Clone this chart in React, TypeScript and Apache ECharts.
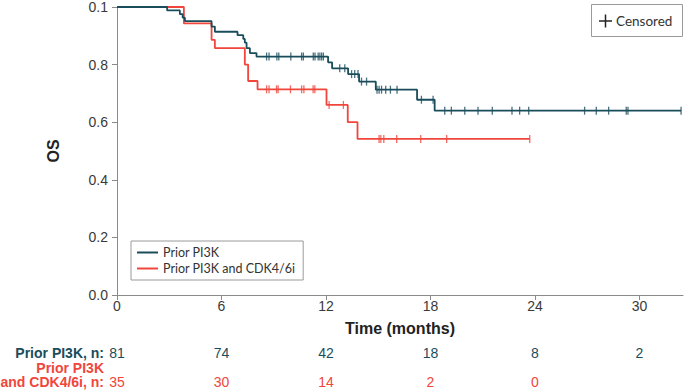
import React, { useEffect, useRef } from "react";
import * as echarts from "echarts";

// ---- Data ----
const priorTimes = [0, 2.88, 3.61, 3.77, 3.9, 5.43, 5.62, 6.92, 7.25, 7.34, 7.44, 7.63, 8.01, 12.12, 12.35, 13.27, 13.9, 14.86, 17.23, 18.24, 32.39];
const priorSurv = [1, 0.988, 0.975, 0.963, 0.951, 0.932, 0.914, 0.902, 0.889, 0.876, 0.857, 0.84, 0.828, 0.808, 0.787, 0.767, 0.741, 0.713, 0.678, 0.64, 0.64];
const priorCensored = [8.59, 8.73, 9.18, 9.29, 9.98, 10.6, 10.7, 11.27, 11.37, 11.55, 11.65, 11.75, 11.85, 12.79, 13.08, 13.47, 13.65, 13.84, 14.04, 14.33, 14.93, 15.05, 15.19, 15.43, 15.7, 16.08, 17.48, 18.15, 18.82, 19.2, 19.97, 20.73, 21.55, 22.68, 23.12, 23.64, 26.85, 27.52, 28.23, 29.24, 29.34, 32.39];

const comboTimes = [0, 3.84, 5.43, 5.62, 7.34, 7.53, 8.07, 12.03, 13.25, 13.81, 23.7];
const comboSurv = [1, 0.943, 0.886, 0.857, 0.8, 0.743, 0.714, 0.66, 0.6, 0.542, 0.542];
const comboCensored = [8.59, 8.73, 9.16, 9.25, 9.96, 10.6, 10.73, 11.26, 11.36, 12.18, 13.0, 15.05, 15.15, 15.32, 16.06, 17.44, 18.93, 23.7];

const xTicks = [0, 6, 12, 18, 24, 30];
const yTicks = [0, 0.2, 0.4, 0.6, 0.8, 1.0];
const riskTimes = [0, 6, 12, 18, 24, 30];
const riskPrior = [81, 74, 42, 18, 8, 2];
const riskCombo = [35, 30, 14, 2, 0];

const seriesNames = ["Prior PI3K", "Prior PI3K and CDK4/6i"];
const TEAL = "#1a4d5c";
const RED = "#f0463b";

function survAt(times: number[], surv: number[], t: number) {
  let s = surv[0];
  for (let i = 0; i < times.length; i++) {
    if (times[i] <= t) s = surv[i];
  }
  return s;
}

export default function App() {
  const ref = useRef<HTMLDivElement>(null);
  useEffect(() => {
    if (!ref.current) return;
    const chart = echarts.init(ref.current, undefined, { renderer: "svg" });
    const axisLineStyle = { color: "#8a8a8a", width: 1 };
    const option: any = {
      animation: false,
      backgroundColor: "#ffffff",
      grid: { left: 117, right: 2, top: 5, bottom: 96, containLabel: false },
      legend: {
        data: seriesNames,
        orient: "vertical",
        left: 131,
        top: 241,
        borderColor: "#9a9a9a",
        borderWidth: 1,
        padding: [5, 8, 5, 6],
        itemGap: 3,
        itemWidth: 21,
        itemHeight: 2,
        icon: "rect",
        textStyle: { fontFamily: "Lato", fontSize: 12.5, color: "#333" },
      },
      xAxis: {
        type: "value",
        min: 0,
        max: 32.5,
        interval: 6,
        name: "Time (months)",
        nameLocation: "middle",
        nameGap: 25,
        nameTextStyle: { fontFamily: "Liberation Sans", fontWeight: "bold", fontSize: 16, color: "#222" },
        axisLine: { lineStyle: axisLineStyle },
        axisTick: { show: true, length: 5, lineStyle: axisLineStyle, customValues: xTicks },
        axisLabel: { fontFamily: "Liberation Sans", fontSize: 14, color: "#3a3a3a", margin: 4, customValues: xTicks },
        splitLine: { show: false },
      },
      yAxis: {
        type: "value",
        min: 0,
        max: 1,
        interval: 0.2,
        name: "OS",
        nameLocation: "middle",
        nameGap: 56,
        nameTextStyle: { fontFamily: "Liberation Sans", fontWeight: "bold", fontSize: 16, color: "#222" },
        axisLine: { show: true, lineStyle: axisLineStyle },
        axisTick: { show: true, length: 5, lineStyle: axisLineStyle, customValues: yTicks },
        axisLabel: {
          fontFamily: "Liberation Sans",
          fontSize: 14,
          color: "#3a3a3a",
          margin: 9,
          customValues: yTicks,
          formatter: (v: number) => (Math.abs(v - 1) < 1e-9 ? "0.1" : v.toFixed(1)),
        },
        splitLine: { show: false },
      },
      series: [
        {
          name: seriesNames[0],
          type: "line",
          step: "end",
          showSymbol: false,
          symbol: "none",
          color: TEAL,
          lineStyle: { color: TEAL, width: 1.8 },
          data: priorTimes.map((t, i) => [t, priorSurv[i]]),
          z: 3,
        },
        {
          name: seriesNames[1],
          type: "line",
          step: "end",
          showSymbol: false,
          symbol: "none",
          color: RED,
          lineStyle: { color: RED, width: 1.8 },
          data: comboTimes.map((t, i) => [t, comboSurv[i]]),
          z: 2,
        },
        {
          name: "prior-censored",
          type: "scatter",
          symbol: "rect",
          symbolSize: [1.3, 8],
          itemStyle: { color: TEAL },
          data: priorCensored.map((t) => [t, survAt(priorTimes, priorSurv, t)]),
          z: 4,
        },
        {
          name: "combo-censored",
          type: "scatter",
          symbol: "rect",
          symbolSize: [1.3, 8],
          itemStyle: { color: RED },
          data: comboCensored.map((t) => [t, survAt(comboTimes, comboSurv, t)]),
          z: 4,
        },
      ],
    };
    chart.setOption(option);

    const px = (t: number) => chart.convertToPixel({ xAxisIndex: 0 }, t) as number;
    const tableFont = { fontFamily: "Liberation Sans", fontSize: 14 };
    const graphics: any[] = [];
    // Censored legend box
    graphics.push({
      type: "rect",
      shape: { x: 591.5, y: 4.5, width: 91, height: 32 },
      style: { fill: "#fff", stroke: "#9a9a9a", lineWidth: 1 },
      z: 10,
    });
    graphics.push({ type: "line", shape: { x1: 599, y1: 21, x2: 612, y2: 21 }, style: { stroke: "#222", lineWidth: 1.5 }, z: 11 });
    graphics.push({ type: "line", shape: { x1: 605.5, y1: 14.5, x2: 605.5, y2: 27.5 }, style: { stroke: "#222", lineWidth: 1.5 }, z: 11 });
    graphics.push({
      type: "text",
      x: 616,
      y: 21,
      style: { text: "Censored", fontFamily: "Lato", fontSize: 13.5, fill: "#333", verticalAlign: "middle", textAlign: "left" },
      z: 11,
    });
    // Risk table labels
    graphics.push({
      type: "text",
      x: 104,
      y: 353,
      style: { text: "Prior PI3K, n:", ...tableFont, fontWeight: "bold", fill: TEAL, textAlign: "right", verticalAlign: "middle" },
    });
    graphics.push({
      type: "text",
      x: 104,
      y: 375,
      style: {
        text: "Prior PI3K\nand CDK4/6i, n:",
        ...tableFont,
        lineHeight: 14.5,
        fontWeight: "bold",
        fill: RED,
        textAlign: "right",
        verticalAlign: "middle",
      },
    });
    riskPrior.forEach((n, i) => {
      graphics.push({
        type: "text",
        x: px(riskTimes[i]),
        y: 353,
        style: { text: String(n), ...tableFont, fill: TEAL, textAlign: "center", verticalAlign: "middle" },
      });
    });
    riskCombo.forEach((n, i) => {
      graphics.push({
        type: "text",
        x: px(riskTimes[i]),
        y: 382,
        style: { text: String(n), ...tableFont, fill: RED, textAlign: "center", verticalAlign: "middle" },
      });
    });
    chart.setOption({ graphic: graphics });

    return () => chart.dispose();
  }, []);
  return (
    <div
      ref={ref}
      style={{ position: "fixed", left: 0, top: 0, width: 685, height: 391, background: "#fff" }}
    />
  );
}
